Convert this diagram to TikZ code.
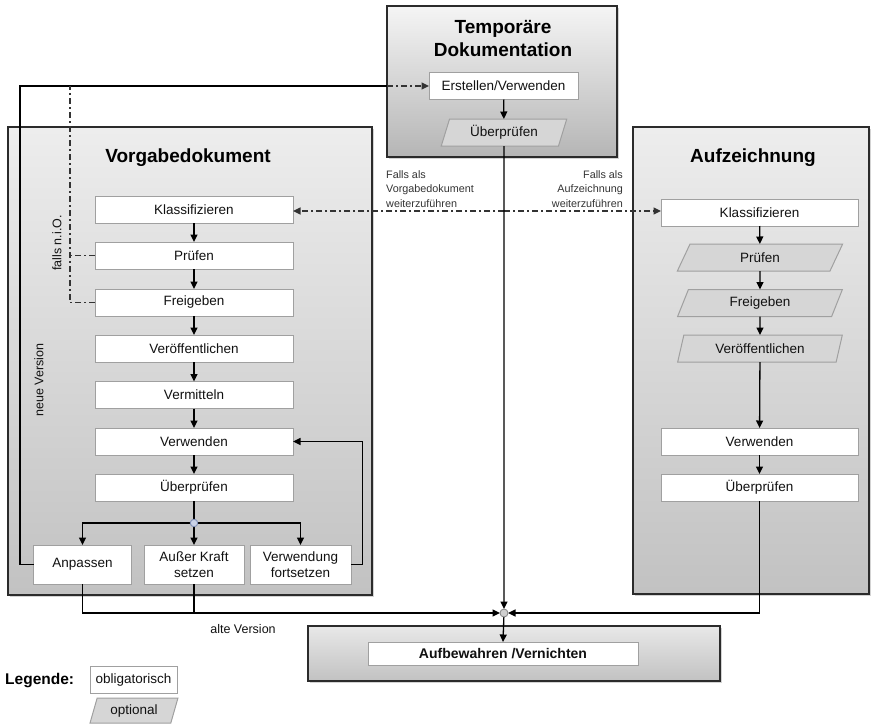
\documentclass[tikz,border=0pt]{standalone}
\usepackage{fontspec}
\setmainfont{Liberation Sans}
\usetikzlibrary{arrows.meta,shapes.geometric,shadows,calc}
\definecolor{bx}{HTML}{A0A0A0}
\definecolor{outline}{HTML}{2B2B2B}
\definecolor{optfill}{HTML}{D6D6D6}
\definecolor{jfillA}{HTML}{C9D1E6}
\definecolor{jdrawA}{HTML}{7D8DB5}
\definecolor{jfillB}{HTML}{CFCFCF}
\definecolor{jdrawB}{HTML}{8A8A8A}
\definecolor{txt}{HTML}{111111}
\definecolor{lbl}{HTML}{333333}
\begin{document}
\begin{tikzpicture}[x=1pt,y=-1pt,
  ob/.style={draw=bx, fill=white, line width=1pt, inner sep=0pt, outer sep=0pt,
    minimum height=27pt, text=txt, align=center, font=\fontsize{13.5}{16.5}\selectfont},
  opt/.style={trapezium, trapezium left angle=70, trapezium right angle=110,
    trapezium stretches=true, draw=bx, fill=optfill, line width=1pt, inner sep=0pt,
    outer sep=0pt, minimum height=27pt, text=txt, font=\fontsize{13.5}{16.5}\selectfont},
  outerbox/.style={draw=outline, line width=1.3pt, inner sep=0pt, outer sep=0pt, anchor=north west,
    drop shadow={shadow xshift=1.5pt, shadow yshift=-1.5pt, opacity=0.35}},
  titletxt/.style={font=\fontsize{19}{23}\bfseries, align=center, text=black},
  lbltxt/.style={font=\fontsize{10.8}{14.5}\selectfont, text=lbl, inner sep=0pt},
  rottxt/.style={font=\fontsize{12.5}{14}\selectfont, text=txt, rotate=90, inner sep=0pt},
  ln/.style={line width=1.3pt, draw=black},
  arr/.style={line width=1.3pt, draw=black, -{Triangle[length=7.5pt,width=7pt]}},
  dd/.style={line width=1.3pt, draw=black!80, dash pattern=on 6pt off 3pt on 2pt off 3pt},
  ddarr/.style={dd, -{Triangle[length=7.5pt,width=7pt]}},
  jcA/.style={circle, draw=jdrawA, fill=jfillA, line width=0.9pt, minimum size=7.5pt, inner sep=0pt},
  jcB/.style={circle, draw=jdrawB, fill=jfillB, line width=0.9pt, minimum size=8pt, inner sep=0pt}
]
\useasboundingbox (0,0) rectangle (877,723);

% ---------- outer boxes ----------
\node[outerbox, top color=white!93!black, bottom color=white!76!black,
      minimum width=364pt, minimum height=468pt] (VG) at (8,127) {};
\node[outerbox, top color=white!93!black, bottom color=white!76!black,
      minimum width=236pt, minimum height=467pt] (AZ) at (633,127) {};
\node[outerbox, top color=white!96!black, bottom color=white!71!black,
      minimum width=230pt, minimum height=151pt] (TD) at (387,6) {};
\node[outerbox, top color=white!91!black, bottom color=white!76!black,
      minimum width=412pt, minimum height=55pt] (AV) at (308,626) {};

% ---------- titles ----------
\node[titletxt] (tTD) at (503,38.5) {Temporäre\\Dokumentation};
\node[titletxt] (tVG) at (188,158) {Vorgabedokument};
\node[titletxt] (tAZ) at (753,158) {Aufzeichnung};

% ---------- Temporäre Dokumentation ----------
\node[ob, minimum width=149pt] (te) at (503.5,86) {Erstellen/Verwenden};
\node[opt, minimum width=126pt] (tu) at (504,132.5) {Überprüfen};

% ---------- Vorgabedokument ----------
\node[ob, minimum width=198pt] (vk) at (194,209.5) {Klassifizieren};
\node[ob, minimum width=198pt] (vp) at (194,255.5) {Prüfen};
\node[ob, minimum width=198pt] (vf) at (194,302.5) {Freigeben};
\node[ob, minimum width=198pt] (vv) at (194,348.5) {Veröffentlichen};
\node[ob, minimum width=198pt] (vm) at (194,395) {Vermitteln};
\node[ob, minimum width=198pt] (vw) at (194,441.5) {Verwenden};
\node[ob, minimum width=198pt] (vu) at (194,487.5) {Überprüfen};
\node[ob, minimum width=98pt, minimum height=39pt] (va) at (82.5,564.5) {Anpassen};
\node[ob, minimum width=100pt, minimum height=39pt] (vx) at (194,564.5) {Außer Kraft\\setzen};
\node[ob, minimum width=101pt, minimum height=39pt] (vz) at (300.5,564.5) {Verwendung\\fortsetzen};

% ---------- Aufzeichnung ----------
\node[ob, minimum width=197pt] (ak) at (759.5,212.5) {Klassifizieren};
\node[opt, minimum width=166pt] (ap) at (760,257.5) {Prüfen};
\node[opt, minimum width=166pt] (af) at (760,303) {Freigeben};
\node[opt, minimum width=166pt] (av) at (760,348.5) {Veröffentlichen};
\node[ob, minimum width=197pt] (aw) at (759.5,441.5) {Verwenden};
\node[ob, minimum width=197pt] (au) at (759.5,487.5) {Überprüfen};

% ---------- Aufbewahren ----------
\node[ob, minimum width=270pt, minimum height=23pt, font=\fontsize{14}{16}\bfseries] (ab) at (503,653.5) {Aufbewahren /Vernichten};

% ---------- labels ----------
\node[lbltxt, anchor=north west, align=left] (l1) at (386,170) {Falls als\\Vorgabedokument\\weiterzuführen};
\node[lbltxt, anchor=north east, align=right] (l2) at (623,170) {Falls als\\Aufzeichnung\\weiterzuführen};
\node[rottxt] (lfn) at (57,243) {falls n.i.O.};
\node[rottxt] (lnv) at (39,380) {neue Version};
\node[font=\fontsize{12.5}{14}\selectfont, text=txt, inner sep=0pt] (lav) at (243,629) {alte Version};

% ---------- connectors: Vorgabedokument ----------
\draw[arr] (vk) -- (vp);
\draw[arr] (vp) -- (vf);
\draw[arr] (vf) -- (vv);
\draw[arr] (vv) -- (vm);
\draw[arr] (vm) -- (vw);
\draw[arr] (vw) -- (vu);
\coordinate (K) at (194,523);
\draw[ln] (vu) -- (K);
\draw[arr] (K) -| (va.north);
\draw[arr] (K) -| (vz.north);
\draw[arr] (K) -- (vx.north);
\node[jcA] (Kc) at (K) {};
\draw[arr] (vz.east) -- ++(11.5,0) |- (vw.east);

% neue Version / falls n.i.O.
\coordinate (T) at (387,86);
\draw[ln] (va.west) -- (20,564.5) -- (20,86) -- (T);
\draw[ddarr] (T) -- (te.west);
\draw[dd] (vf.west) -- (70,302.5) -- (70,86);
\draw[dd] (vp.west) -- (70,255.5);

% ---------- connectors: Temporäre Dokumentation ----------
\draw[arr] (te) -- (tu);
\coordinate (M) at (504,211);
\draw[ddarr] (M) -- (M -| vk.east);
\draw[ddarr] (M) -- (M -| ak.west);

% ---------- connectors: Aufzeichnung ----------
\draw[arr] (ak) -- (ap);
\draw[arr] (ap) -- (af);
\draw[arr] (af) -- (av);
\draw[arr] (av) -- (aw);
\draw[arr] (aw) -- (au);

% ---------- bottom junction ----------
\coordinate (J) at (504,613);
\draw[arr, shorten >=4pt] (tu.south) -- (J);
\draw[arr, shorten >=4pt] (va.south) |- (J);
\draw[ln] (vx.south) -- (vx.south |- J);
\draw[arr, shorten >=4pt] (au.south) |- (J);
\draw[arr, shorten <=4pt] (J) -- (ab.north);
\node[jcB] (Jc) at (J) {};

% ---------- legend ----------
\node[anchor=west, font=\fontsize{15.5}{18}\bfseries, inner sep=0pt] (leg) at (5,681) {Legende:};
\node[ob, minimum width=87pt] (lo) at (133.5,679.5) {obligatorisch};
\node[opt, minimum width=88pt, minimum height=25pt] (lp) at (134,710.5) {optional};
\end{tikzpicture}
\end{document}
